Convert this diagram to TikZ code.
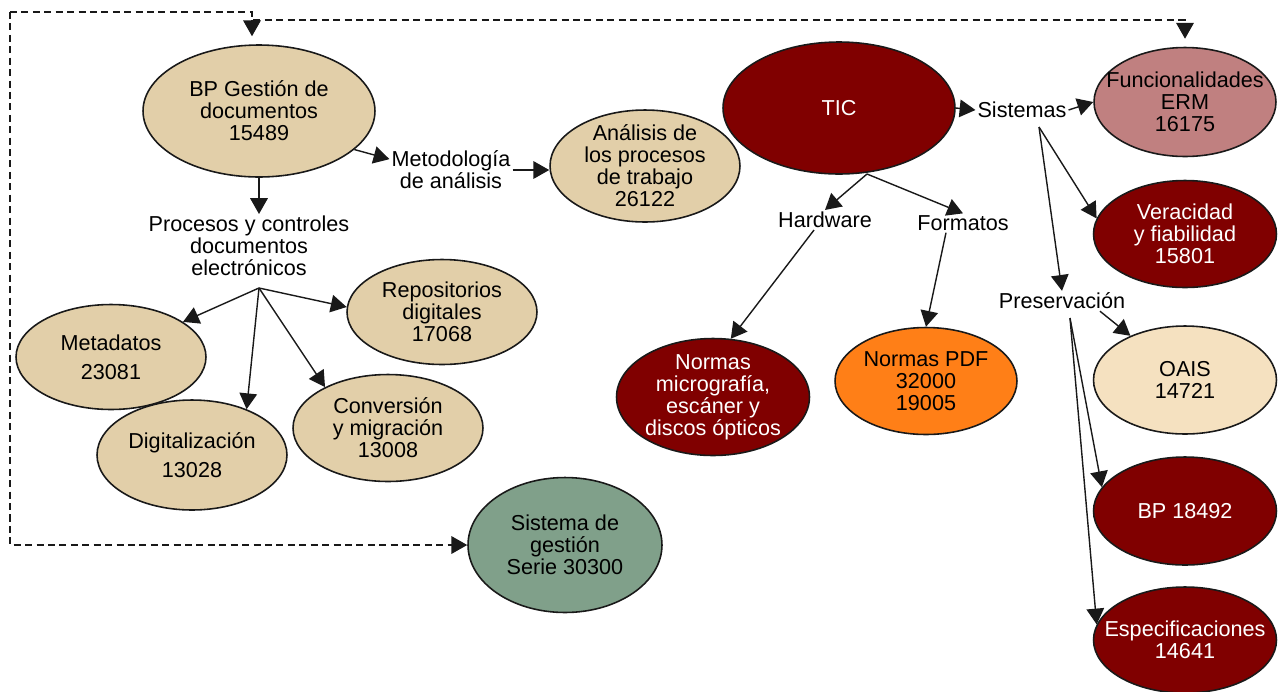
\documentclass[tikz,border=0pt]{standalone}
\usepackage{fontspec}
\setmainfont{Liberation Sans}
\usepackage{tikz}
\usetikzlibrary{shapes.geometric}
\usetikzlibrary{arrows.meta}

\definecolor{beige}{RGB}{226,207,169}
\definecolor{granate}{RGB}{128,0,0}
\definecolor{rosa}{RGB}{192,128,128}
\definecolor{naranja}{RGB}{255,127,23}
\definecolor{crema}{RGB}{245,225,192}
\definecolor{verde}{RGB}{128,160,138}

\tikzset{
  elip/.style={ellipse,draw=black!90,line width=0.9pt,inner xsep=-1cm,inner ysep=-0.5cm,
    align=center,font=\fontsize{12.3}{12.5}\selectfont},
  rotulo/.style={align=center,inner sep=1pt,font=\fontsize{12.3}{12.5}\selectfont},
  flecha/.style={-{Triangle[length=9pt,width=10pt]},line width=0.8pt,draw=black!90},
  discont/.style={-{Triangle[length=9pt,width=10pt]},line width=0.8pt,draw=black!90,
    dash pattern=on 4pt off 2.5pt}
}

\begin{document}
\begin{tikzpicture}[x=0.02cm,y=-0.02cm]
  \useasboundingbox (0,0) rectangle (1279,691);

  % nodos de la izquierda
  \node [elip,fill=beige,minimum width=4.64cm,minimum height=2.64cm] (bpgd) at (259,111)
    {BP Gesti\'on de\\documentos\\15489};
  \node [rotulo] (metod) at (451,170) {Metodolog\'ia\\de an\'alisis};
  \node [elip,fill=beige,minimum width=3.8cm,minimum height=2.24cm] (analisis) at (645,166)
    {An\'alisis de\\los procesos\\de trabajo\\26122};
  \node [rotulo] (procesos) at (249,246) {Procesos y controles\\documentos\\electr\'onicos};
  \node [elip,fill=beige,minimum width=3.8cm,minimum height=2.1cm] (metadatos) at (111,357)
    {Metadatos\\[4pt]23081};
  \node [elip,fill=beige,minimum width=3.8cm,minimum height=2.1cm] (repos) at (442,312)
    {Repositorios\\digitales\\17068};
  \node [elip,fill=beige,minimum width=3.8cm,minimum height=2.2cm] (digital) at (192,455)
    {Digitalizaci\'on\\[4pt]13028};
  \node [elip,fill=beige,minimum width=3.8cm,minimum height=2.14cm] (conversion) at (388,428)
    {Conversi\'on\\y migraci\'on\\13008};
  \node [elip,fill=verde,minimum width=3.88cm,minimum height=2.7cm] (sgestion) at (565,545)
    {Sistema de\\gesti\'on\\Serie 30300};

  % nodos de la derecha
  \node [elip,fill=granate,text=white,minimum width=4.64cm,minimum height=2.64cm] (tic) at (839,108) {TIC};
  \node [rotulo] (sistemas) at (1022,110) {Sistemas};
  \node [elip,fill=rosa,minimum width=3.64cm,minimum height=2.18cm] (func) at (1185,102)
    {Funcionalidades\\ERM\\16175};
  \node [elip,fill=granate,text=white,minimum width=3.66cm,minimum height=2.14cm] (veracidad) at (1185,234)
    {Veracidad\\y fiabilidad\\15801};
  \node [rotulo] (hardware) at (825,220) {Hardware};
  \node [rotulo] (formatos) at (963,223) {Formatos};
  \node [elip,fill=granate,text=white,minimum width=3.86cm,minimum height=2.34cm] (micro) at (713,397)
    {Normas\\micrograf\'ia,\\esc\'aner y\\discos \'opticos};
  \node [elip,fill=naranja,minimum width=3.64cm,minimum height=2.14cm] (pdf) at (926,381)
    {Normas PDF\\32000\\19005};
  \node [rotulo] (preserv) at (1062,301) {Preservaci\'on};
  \node [elip,fill=crema,minimum width=3.66cm,minimum height=2.16cm] (oais) at (1185,380)
    {OAIS\\14721};
  \node [elip,fill=granate,text=white,minimum width=3.66cm,minimum height=2.16cm] (bp18492) at (1185,511)
    {BP 18492};
  \node [elip,fill=granate,text=white,minimum width=3.66cm,minimum height=2.12cm] (espec) at (1185,640)
    {Especificaciones\\14641};

  % puntos de salida
  \coordinate (pfan) at (259,288);
  \coordinate (tfan) at (867,174);
  \coordinate (sfan) at (1039,127);
  \coordinate (prfan) at (1070,318);
  \coordinate (esq) at (10,12);
  \coordinate (paso) at (252,20);

  % flechas
  \draw [flecha] (bpgd.south) -- (bpgd.south |- procesos.north);
  \draw [flecha] (bpgd.-22) -- (metod.170);
  \draw [flecha] (metod.east) -- (metod.east -| analisis.west);
  \draw [flecha] (pfan) -- (metadatos.26);
  \draw [flecha] (pfan) -- (digital.40);
  \draw [flecha] (pfan) -- (conversion.147);
  \draw [flecha] (pfan) -- (repos.177);

  \draw [flecha] (tic.east) -- (sistemas.west);
  \draw [flecha] (sistemas.east) -- (func.west);
  \draw [flecha] (sfan) -- (veracidad.170);
  \draw [flecha] (sfan) -- (preserv.north);
  \draw [flecha] (tfan) -- (hardware.north);
  \draw [flecha] (tfan) -- (formatos.north);
  \draw [flecha] ([xshift=-0.22cm]hardware.south) -- (micro.73);
  \draw [flecha] ([xshift=-0.34cm]formatos.south) -- (pdf.north);
  \draw [flecha] (preserv.-15) -- (oais.141);
  \draw [flecha] (prfan) -- (bp18492.164);
  \draw [flecha] (prfan) -- (espec.170);

  % lineas discontinuas
  \draw [discont] (esq) |- (sgestion.west);
  \draw [discont,shorten >=0.16cm] (esq) -| (paso) -| (func.north);
  \draw [discont,shorten >=0.16cm] (paso) -- (paso |- bpgd.north);
\end{tikzpicture}
\end{document}
